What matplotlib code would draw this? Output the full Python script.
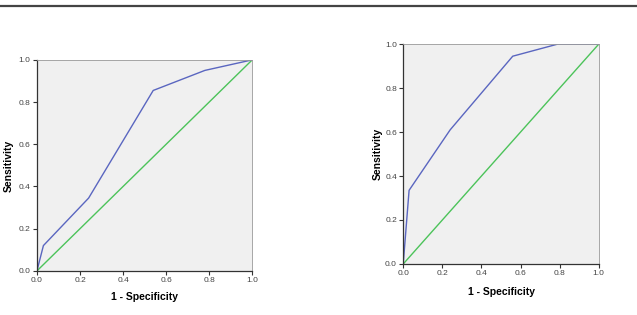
import matplotlib.pyplot as plt
from matplotlib.lines import Line2D

plt.rcParams['font.family'] = ['Liberation Sans', 'DejaVu Sans']

# ROC curve points
fpr_left = [0.0, 0.03, 0.24, 0.54, 0.78, 1.0]
tpr_left = [0.0, 0.12, 0.345, 0.855, 0.95, 1.0]
fpr_right = [0.0, 0.03, 0.24, 0.56, 0.79, 1.0]
tpr_right = [0.0, 0.335, 0.61, 0.945, 1.0, 1.0]
ref_line = [0.0, 1.0]
ticks = [0.0, 0.2, 0.4, 0.6, 0.8, 1.0]
tick_labels = ["0.0", "0.2", "0.4", "0.6", "0.8", "1.0"]

fig = plt.figure(figsize=(6.37, 3.15), dpi=100)
fig.patch.set_facecolor("white")

# thin rule across the top
fig.add_artist(Line2D([0, 1], [0.980, 0.980], color="#444444", lw=1.6,
                      transform=fig.transFigure))

ax1 = fig.add_axes([0.058, 0.140, 0.338, 0.670])
ax2 = fig.add_axes([0.633, 0.162, 0.307, 0.698])

setups = [(ax1, fpr_left, tpr_left, -0.108, -0.10),
          (ax2, fpr_right, tpr_right, -0.105, -0.105)]
for ax, fx, ty, ylx, xly in setups:
    ax.set_facecolor("#f0f0f0")
    ax.plot(ref_line, ref_line, color="#4cc35a", lw=1.0)
    ax.plot(fx, ty, color="#5a66c0", lw=1.0)
    ax.set_xlim(0, 1)
    ax.set_ylim(0, 1)
    ax.set_xticks(ticks)
    ax.set_yticks(ticks)
    ax.set_xticklabels(tick_labels)
    ax.set_yticklabels(tick_labels)
    ax.tick_params(labelsize=6, labelcolor="#444444", length=3, width=0.8,
                   color="#333333", pad=1.5)
    for s in ["left", "bottom"]:
        ax.spines[s].set_color("#333333")
        ax.spines[s].set_linewidth(0.9)
    for s in ["top", "right"]:
        ax.spines[s].set_color("#999999")
        ax.spines[s].set_linewidth(0.6)
    ax.set_xlabel("1 - Specificity", fontsize=7.5, fontweight="bold")
    ax.set_ylabel("Sensitivity", fontsize=7.5, fontweight="bold")
    ax.yaxis.set_label_coords(ylx, 0.5)
    ax.xaxis.set_label_coords(0.5, xly)

plt.savefig("out.png", dpi=100)
